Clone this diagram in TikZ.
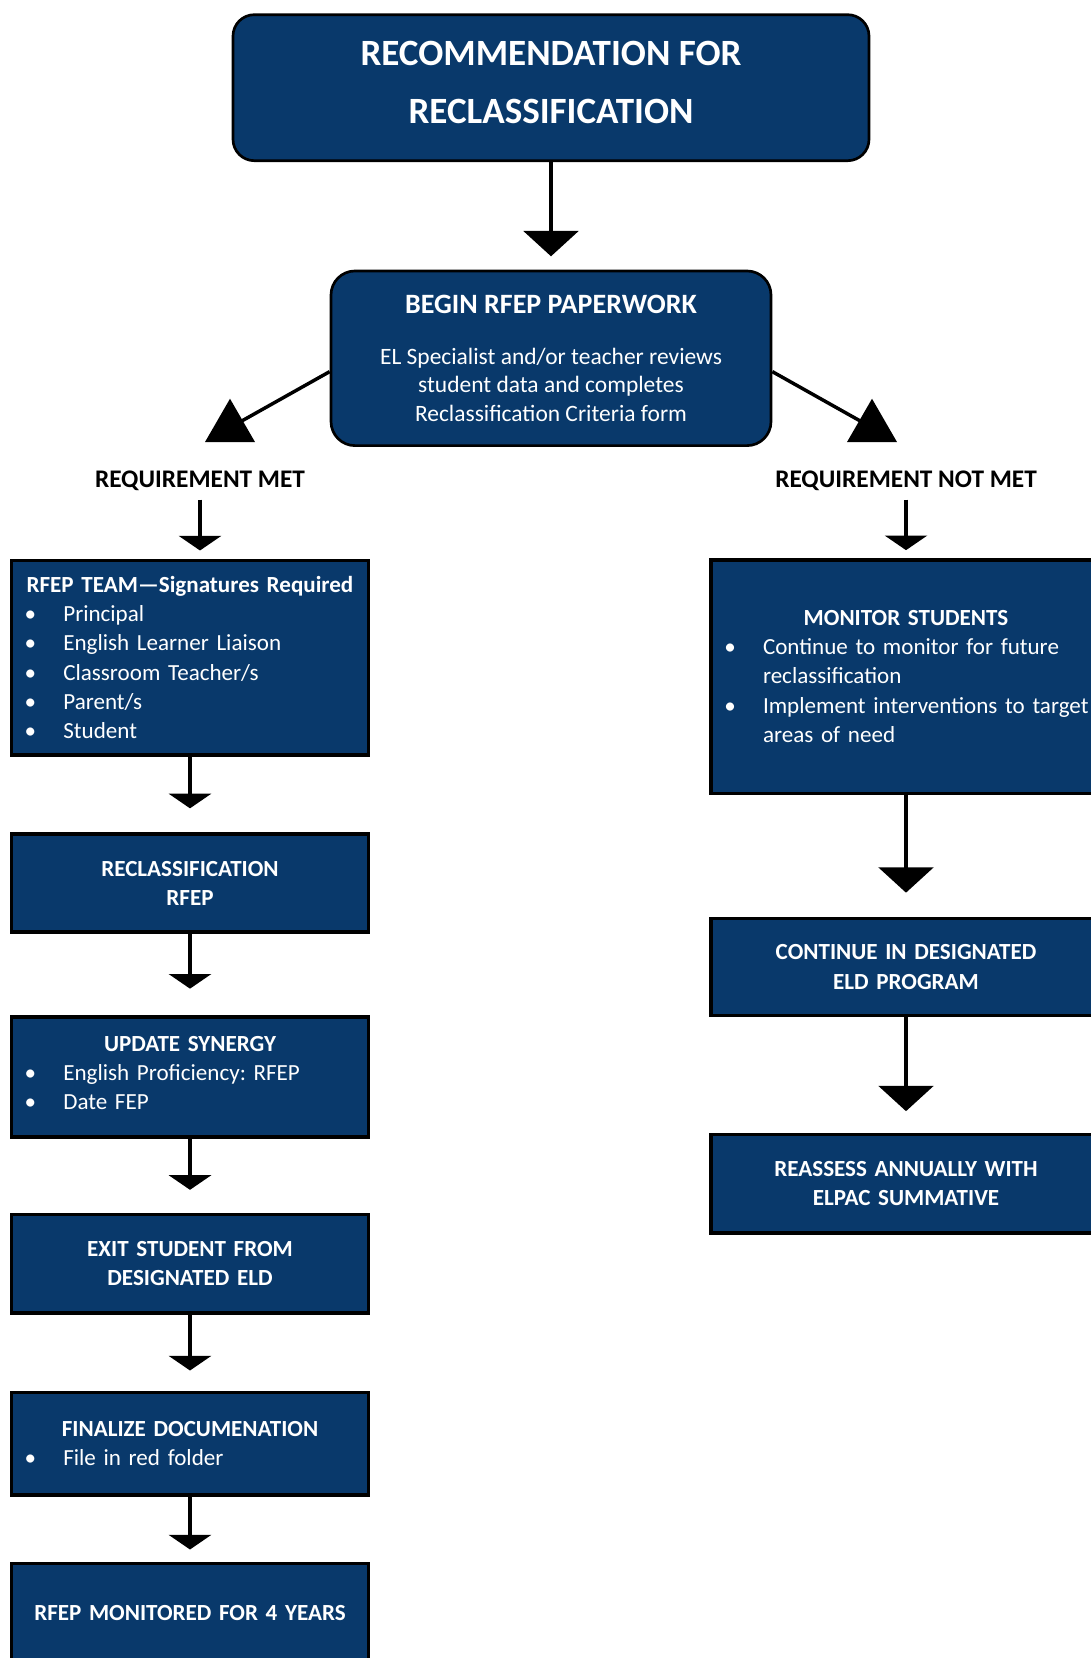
\documentclass[tikz,border=0pt]{standalone}
\usepackage{fontspec}
\setmainfont{Carlito}
\usetikzlibrary{arrows.meta,shapes.geometric}
\definecolor{navy}{RGB}{9,57,107}
\frenchspacing
\newcommand\bitem[1]{\par\hangindent=31pt\hangafter=1\noindent\makebox[31pt][l]{\hspace{2pt}\textbullet}#1\par}
\newcommand\bhead[1]{{\centering\bfseries #1\par}}
\tikzset{
  flowbox/.style={draw=black,line width=2.5pt,fill=navy,text=white,
    inner xsep=8pt,inner ysep=4pt,align=left,font=\fontsize{17.3}{21.8}\selectfont},
  leftbox/.style={flowbox,minimum width=268pt,text width=252pt},
  rightbox/.style={flowbox,minimum width=292.5pt,text width=276.5pt},
  roundbox/.style={flowbox,rounded corners=16pt,line width=2pt,align=center},
  tag/.style={font=\fontsize{19}{22}\selectfont\bfseries},
  tri/.style={regular polygon,regular polygon sides=3,fill=black,minimum size=43.3pt,inner sep=0pt},
  big/.style={-{Triangle[width=41pt,length=19pt]},line width=2.8pt},
  small/.style={-{Triangle[width=31.5pt,length=11pt]},line width=2.8pt}
}
\begin{document}
\begin{tikzpicture}[x=0.75pt,y=-0.75pt]
\clip (0,0) rectangle (1091,1658);
% top of the chart
\node[roundbox,minimum width=477pt,minimum height=109.5pt,text depth=8pt,
  font=\fontsize{27.8}{44}\selectfont\bfseries] (rec) at (551,87.7)
  {RECOMMENDATION FOR\\RECLASSIFICATION};
\node[roundbox,minimum width=330pt,minimum height=131pt,rounded corners=18pt,
  font=\fontsize{17.6}{21.4}\selectfont] (begin) at (551,358.3)
  {{\fontsize{21}{24}\selectfont\bfseries BEGIN RFEP PAPERWORK}\\[17pt]EL Specialist and/or teacher reviews\\student data and completes\\Reclassification Criteria form};
\node[tri] (trl) at (230,427.6) {};
\node[tri] (trr) at (872,427.6) {};
\draw[line width=2.6pt] ([yshift=-10pt]begin.west) -- (trl.center);
\draw[line width=2.6pt] ([yshift=-10pt]begin.east) -- (trr.center);
\node[tag] (met) at (200,481) {REQUIREMENT MET};
\node[tag] (notmet) at (906,481) {REQUIREMENT NOT MET};
% left column
\node[leftbox,minimum height=146pt] (team) at (190,657.5)
  {\bhead{RFEP TEAM---Signatures Required}\bitem{Principal}\bitem{English Learner Liaison}
   \bitem{Classroom Teacher/s}\bitem{Parent/s}\bitem{Student}};
\node[leftbox,minimum height=73.5pt] (recl) at (190,883)
  {\bhead{RECLASSIFICATION\\RFEP}};
\node[leftbox,minimum height=90pt] (syn) at (190,1077)
  {\bhead{UPDATE SYNERGY}\bitem{English Proficiency: RFEP}\bitem{Date FEP}\vspace{6pt}};
\node[leftbox,minimum height=74pt] (exit) at (190,1263.5)
  {\bhead{EXIT STUDENT FROM\\DESIGNATED ELD}};
\node[leftbox,minimum height=77pt] (fin) at (190,1443.5)
  {\bhead{FINALIZE DOCUMENATION}\bitem{File in red folder}};
\node[leftbox,minimum height=74pt] (mon4) at (190,1612.5)
  {\bhead{RFEP MONITORED FOR 4 YEARS}};
% right column
\node[rightbox,minimum height=175pt] (monst) at (906,676.5)
  {\bhead{MONITOR STUDENTS}\bitem{Continue to monitor for future\newline reclassification}
   \bitem{Implement interventions to target\newline areas of need}};
\node[rightbox,minimum height=73pt] (cont) at (906,967)
  {\bhead{CONTINUE IN DESIGNATED\\ELD PROGRAM}};
\node[rightbox,minimum height=74pt] (reas) at (906,1183.5)
  {\bhead{REASSESS ANNUALLY WITH\\ELPAC SUMMATIVE}};
% arrows
\draw[big,shorten >=10pt] (rec) -- (begin);
\draw[small,shorten <=3pt,shorten >=6pt] (met) -- (met|-team.north);
\draw[small,shorten <=3pt,shorten >=6pt] (notmet) -- (notmet|-monst.north);
\foreach \a/\b/\s in {team/recl/18pt,recl/syn/20pt,syn/exit/17pt,exit/fin/15pt,fin/mon4/9pt}
  \draw[small,shorten >=\s] (\a) -- (\b);
\draw[big,shorten >=18pt] (monst) -- (cont);
\draw[big,shorten >=16pt] (cont) -- (reas);
\end{tikzpicture}
\end{document}
